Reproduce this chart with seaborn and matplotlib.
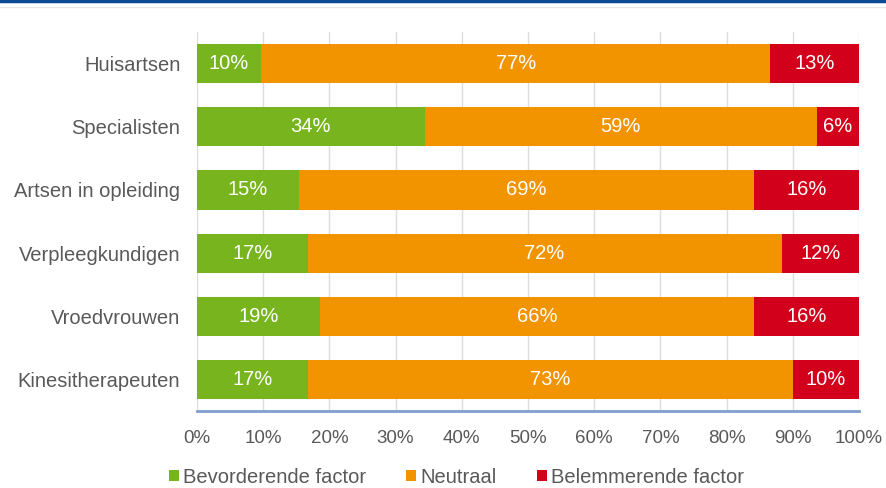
import matplotlib
matplotlib.use("Agg")
import matplotlib.pyplot as plt
from matplotlib.patches import Patch
from matplotlib.lines import Line2D
import seaborn as sns
import pandas as pd
import numpy as np

# Share of respondents (%) per profession
categories = ["Huisartsen", "Specialisten", "Artsen in opleiding",
              "Verpleegkundigen", "Vroedvrouwen", "Kinesitherapeuten"]
bevorderend = [9.7, 34.4, 15.4, 16.7, 18.6, 16.7]
neutraal = [76.9, 59.2, 68.7, 71.6, 65.6, 73.3]
belemmerend = [13.4, 6.4, 15.9, 11.7, 15.8, 10.0]

series_names = ["Bevorderende factor", "Neutraal", "Belemmerende factor"]
series_colors = ["#78b41e", "#f29400", "#d2001a"]
x_ticks = [0, 10, 20, 30, 40, 50, 60, 70, 80, 90, 100]

sns.set_theme(style="white")
plt.rcParams["font.family"] = ["Liberation Sans", "DejaVu Sans"]

df = pd.DataFrame({
    "categorie": categories,
    series_names[0]: bevorderend,
    series_names[1]: neutraal,
    series_names[2]: belemmerend,
})
values = df[series_names].to_numpy()
cum = values.cumsum(axis=1)

fig = plt.figure(figsize=(8.86, 4.88), dpi=100)
ax = fig.add_axes([0.2223, 0.1578, 0.7472, 0.7766])

# Stacked bars: draw cumulative totals from the widest segment down
for j in reversed(range(len(series_names))):
    seg = pd.DataFrame({"categorie": categories, "waarde": cum[:, j]})
    sns.barplot(data=seg, x="waarde", y="categorie", orient="h",
                color=series_colors[j], saturation=1, width=0.62,
                linewidth=0, ax=ax, zorder=3)

# Value labels centred in each segment
for i in range(len(categories)):
    for j in range(len(series_names)):
        left = cum[i, j] - values[i, j]
        ax.text(left + values[i, j] / 2, i, f"{round(values[i, j]):d}%",
                ha="center", va="center", color="white", fontsize=14.5,
                zorder=5)

ax.set_xlim(0, 100)
ax.set_ylim(len(categories) - 0.5, -0.5)
ax.set_xticks(x_ticks)
ax.set_xticklabels([f"{t}%" for t in x_ticks])
ax.set_xlabel("")
ax.set_ylabel("")
ax.tick_params(axis="x", length=0, pad=14, labelsize=13.5, labelcolor="#595959")
ax.tick_params(axis="y", length=0, pad=12, labelsize=14.5, labelcolor="#595959")

ax.grid(axis="x", color="#dcdcdc", linewidth=1, zorder=0)
ax.grid(axis="y", visible=False)
for side in ["top", "right", "left"]:
    ax.spines[side].set_visible(False)
ax.spines["bottom"].set_color("#7f9fcc")
ax.spines["bottom"].set_linewidth(2)
ax.spines["bottom"].set_zorder(6)

handles = [Patch(facecolor=c, edgecolor="none") for c in series_colors]
fig.legend(handles, series_names, loc="center", bbox_to_anchor=(0.515, 0.0225),
           ncol=3, frameon=False, fontsize=14.5, handlelength=0.5,
           handleheight=0.5, handletextpad=0.2, columnspacing=2.0,
           labelcolor="#595959")

# Header rule along the top edge
fig.add_artist(Line2D([0, 1], [0.997, 0.997], color="#0b4a94", linewidth=2.5,
                      transform=fig.transFigure))
fig.add_artist(Line2D([0, 1], [0.985, 0.985], color="#e8e8e8", linewidth=1,
                      transform=fig.transFigure))

fig.savefig("out.png", dpi=100, facecolor="white")
